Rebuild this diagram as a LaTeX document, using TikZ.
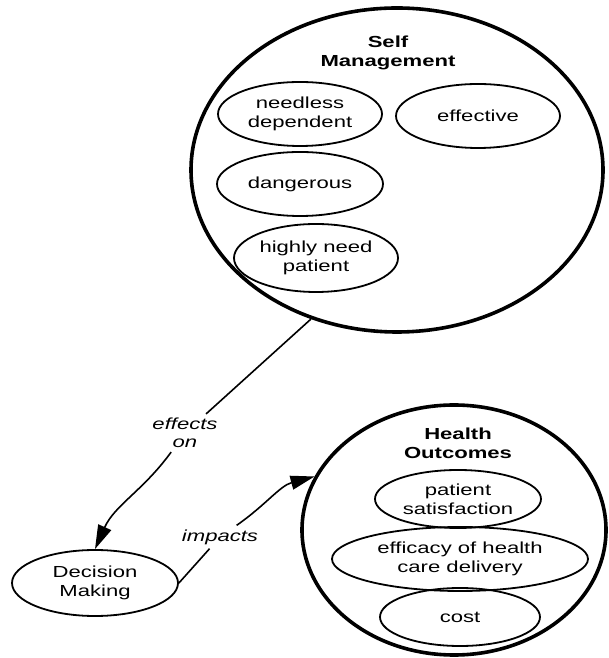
\documentclass[tikz,border=0pt]{standalone}
\usepackage{fontspec}
\setmainfont[FakeStretch=1.38]{Liberation Sans}
\usetikzlibrary{shapes.geometric,arrows.meta}
\begin{document}
\begin{tikzpicture}[x=1pt,y=1pt,
  every node/.style={font=\fontsize{16}{19}\selectfont},
  group/.style={ellipse,draw,line width=3.6pt,inner sep=0pt},
  concept/.style={ellipse,draw,line width=1.8pt,inner sep=1pt,align=center,
    minimum width=164pt,minimum height=64pt},
  heading/.style={align=center,font=\fontsize{16}{19}\selectfont\bfseries},
  linklabel/.style={align=center,inner sep=4pt,font=\fontsize{16}{18}\selectfont\itshape},
  conn/.style={line width=1.6pt},
  arrowconn/.style={line width=1.6pt,-{Triangle[length=24pt,width=14pt]}}]
\useasboundingbox (0,0) rectangle (608,658);

% Self Management group
\node[group,minimum width=412pt,minimum height=324pt] (sm) at (397,488) {};
\node[heading] (smt) at (388,605) {Self\\Management};
\node[concept] (needless) at (300,544) {needless\\dependent};
\node[concept] (effective) at (478,542) {effective};
\node[concept,minimum width=166pt] (dangerous) at (300,474) {dangerous};
\node[concept,minimum height=68pt] (highly) at (316,400) {highly need\\patient};

% Health Outcomes group
\node[group,minimum width=304pt,minimum height=250pt] (ho) at (454,128) {};
\node[heading] (hot) at (458,215) {Health\\Outcomes};
\node[concept,minimum width=166pt,minimum height=58pt] (satisf) at (458,159) {patient\\satisfaction};
\node[concept,minimum width=256pt] (efficacy) at (460,99) {efficacy of health\\care delivery};
\node[concept,minimum width=160pt,minimum height=58pt] (cost) at (460,41) {cost};

% Decision Making
\node[concept,minimum width=166pt,minimum height=66pt] (dm) at (95,75) {Decision\\Making};

% link labels
\node[linklabel] (effl) at (185,225) {effects\\on};
\node[linklabel] (impl) at (220,121) {impacts};

% connectors
\draw[conn] (sm.240) -- (effl);
\draw[arrowconn] (effl) to[out=234,in=66] (dm.north);
\draw[conn] (dm.east) -- (impl);
\draw[arrowconn] (impl) to[out=35,in=195] (ho.159);
\end{tikzpicture}
\end{document}
